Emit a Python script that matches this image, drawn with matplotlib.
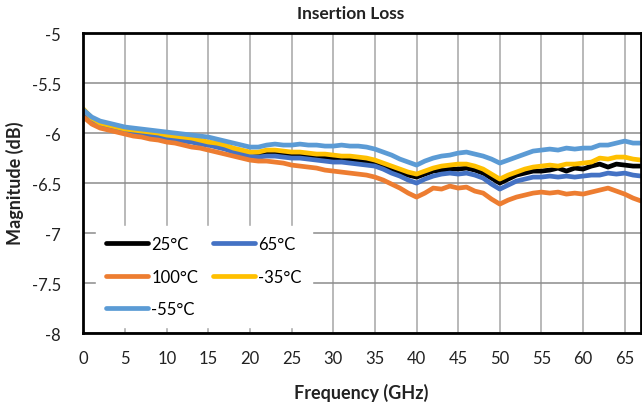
import matplotlib
matplotlib.use("Agg")
import matplotlib.pyplot as plt
from matplotlib.ticker import FuncFormatter

plt.rcParams['font.family'] = ['Lato', 'DejaVu Sans']

freq = list(range(0, 68))

s_25 = [-5.79,-5.86,-5.91,-5.93,-5.95,-5.97,-5.98,-5.99,-6.00,-6.02,-6.03,-6.04,-6.05,-6.07,-6.08,-6.10,
        -6.12,-6.14,-6.16,-6.18,-6.20,-6.21,-6.20,-6.20,-6.21,-6.21,-6.22,-6.23,-6.23,-6.24,-6.25,-6.25,
        -6.26,-6.27,-6.28,-6.30,-6.33,-6.36,-6.39,-6.42,-6.44,-6.41,-6.38,-6.37,-6.36,-6.36,-6.35,-6.37,
        -6.40,-6.45,-6.50,-6.46,-6.42,-6.40,-6.38,-6.38,-6.37,-6.35,-6.38,-6.35,-6.36,-6.33,-6.31,-6.34,
        -6.31,-6.32,-6.33,-6.33]
s_65 = [-5.80,-5.87,-5.92,-5.94,-5.96,-5.98,-5.99,-6.01,-6.02,-6.04,-6.05,-6.06,-6.08,-6.09,-6.11,-6.12,
        -6.14,-6.16,-6.19,-6.21,-6.23,-6.24,-6.23,-6.23,-6.24,-6.25,-6.25,-6.26,-6.27,-6.28,-6.29,-6.29,
        -6.30,-6.31,-6.32,-6.33,-6.36,-6.40,-6.43,-6.47,-6.50,-6.46,-6.43,-6.41,-6.40,-6.41,-6.40,-6.42,
        -6.45,-6.51,-6.56,-6.52,-6.48,-6.46,-6.44,-6.44,-6.43,-6.44,-6.43,-6.44,-6.43,-6.42,-6.42,-6.40,
        -6.41,-6.40,-6.42,-6.43]
s_100 = [-5.84,-5.91,-5.95,-5.97,-5.99,-6.01,-6.03,-6.04,-6.06,-6.07,-6.09,-6.10,-6.12,-6.14,-6.15,-6.17,
         -6.19,-6.21,-6.23,-6.25,-6.27,-6.28,-6.28,-6.29,-6.30,-6.32,-6.33,-6.34,-6.35,-6.37,-6.38,-6.39,
         -6.40,-6.41,-6.42,-6.44,-6.47,-6.51,-6.55,-6.60,-6.64,-6.60,-6.55,-6.56,-6.53,-6.55,-6.54,-6.58,
         -6.60,-6.66,-6.71,-6.67,-6.64,-6.62,-6.60,-6.59,-6.60,-6.59,-6.61,-6.60,-6.61,-6.59,-6.57,-6.55,
         -6.58,-6.61,-6.65,-6.68]
s_m35 = [-5.76,-5.85,-5.90,-5.92,-5.94,-5.96,-5.97,-5.98,-5.99,-6.00,-6.02,-6.03,-6.04,-6.05,-6.07,-6.09,
         -6.10,-6.12,-6.15,-6.17,-6.19,-6.19,-6.17,-6.17,-6.18,-6.19,-6.19,-6.20,-6.21,-6.21,-6.22,-6.23,
         -6.23,-6.24,-6.25,-6.27,-6.30,-6.33,-6.36,-6.39,-6.41,-6.38,-6.35,-6.33,-6.32,-6.31,-6.31,-6.33,
         -6.36,-6.41,-6.46,-6.42,-6.39,-6.36,-6.34,-6.33,-6.32,-6.33,-6.31,-6.31,-6.30,-6.29,-6.25,-6.26,
         -6.24,-6.24,-6.26,-6.27]
s_m55 = [-5.77,-5.84,-5.88,-5.90,-5.92,-5.94,-5.95,-5.96,-5.97,-5.98,-5.99,-6.00,-6.01,-6.02,-6.03,-6.04,
         -6.06,-6.08,-6.10,-6.12,-6.14,-6.14,-6.12,-6.11,-6.12,-6.12,-6.11,-6.12,-6.12,-6.13,-6.13,-6.12,
         -6.13,-6.13,-6.14,-6.16,-6.19,-6.22,-6.26,-6.29,-6.32,-6.28,-6.25,-6.23,-6.22,-6.20,-6.19,-6.21,
         -6.23,-6.26,-6.30,-6.27,-6.24,-6.21,-6.18,-6.17,-6.16,-6.17,-6.15,-6.16,-6.15,-6.15,-6.12,-6.12,
         -6.10,-6.08,-6.10,-6.10]

labels = ["25°C", "65°C", "100°C", "-35°C", "-55°C"]
series = [s_25, s_65, s_100, s_m35, s_m55]
colors = ["#000000", "#4472C4", "#ED7D31", "#FFC000", "#5B9BD5"]

xticks = list(range(0, 70, 5))
yticks = [-8, -7.5, -7, -6.5, -6, -5.5, -5]

fig = plt.figure(figsize=(6.42, 4.10), dpi=100)
ax = fig.add_axes([0.130, 0.185, 0.869, 0.732])

handles = []
for lab, ys, c in zip(labels, series, colors):
    h, = ax.plot(freq, ys, color=c, lw=3.4, label=lab, solid_capstyle='round')
    handles.append(h)

ax.set_xlim(0, 67)
ax.set_ylim(-8, -5)
ax.set_xticks(xticks)
ax.set_yticks(yticks)
ax.yaxis.set_major_formatter(FuncFormatter(lambda v, p: ('%g' % v)))
ax.tick_params(axis='both', length=0, labelsize=12, colors='#222222')
ax.tick_params(axis='y', pad=16)
ax.tick_params(axis='x', pad=12)
ax.grid(axis='y', color='#8c8c8c', lw=1.1)
ax.grid(axis='x', color='#a6a6a6', lw=1.1)
ax.set_axisbelow(True)
for sp in ax.spines.values():
    sp.set_linewidth(2.0)
    sp.set_color('black')

order = [0, 2, 4, 1, 3]
leg = ax.legend([handles[i] for i in order], [labels[i] for i in order],
                ncol=2, loc='upper left', bbox_to_anchor=(0.008, 0.385),
                fontsize=12, frameon=True, fancybox=False, framealpha=1,
                edgecolor='white', facecolor='white', handlelength=2.5,
                handletextpad=0.2, labelspacing=1.0, columnspacing=0.9,
                borderpad=0.6)
for lh in leg.get_lines():
    lh.set_linewidth(3.4)

fig.text(0.546, 0.966, "Insertion Loss", ha='center', va='center',
         fontsize=12.5, fontweight='bold', color='#222222')
fig.text(0.563, 0.041, "Frequency (GHz)", ha='center', va='center',
         fontsize=13, fontweight='bold', color='#222222')
fig.text(0.024, 0.554, "Magnitude (dB)", ha='center', va='center',
         rotation=90, fontsize=13, fontweight='bold', color='#222222')

fig.savefig("out.png", dpi=100)
